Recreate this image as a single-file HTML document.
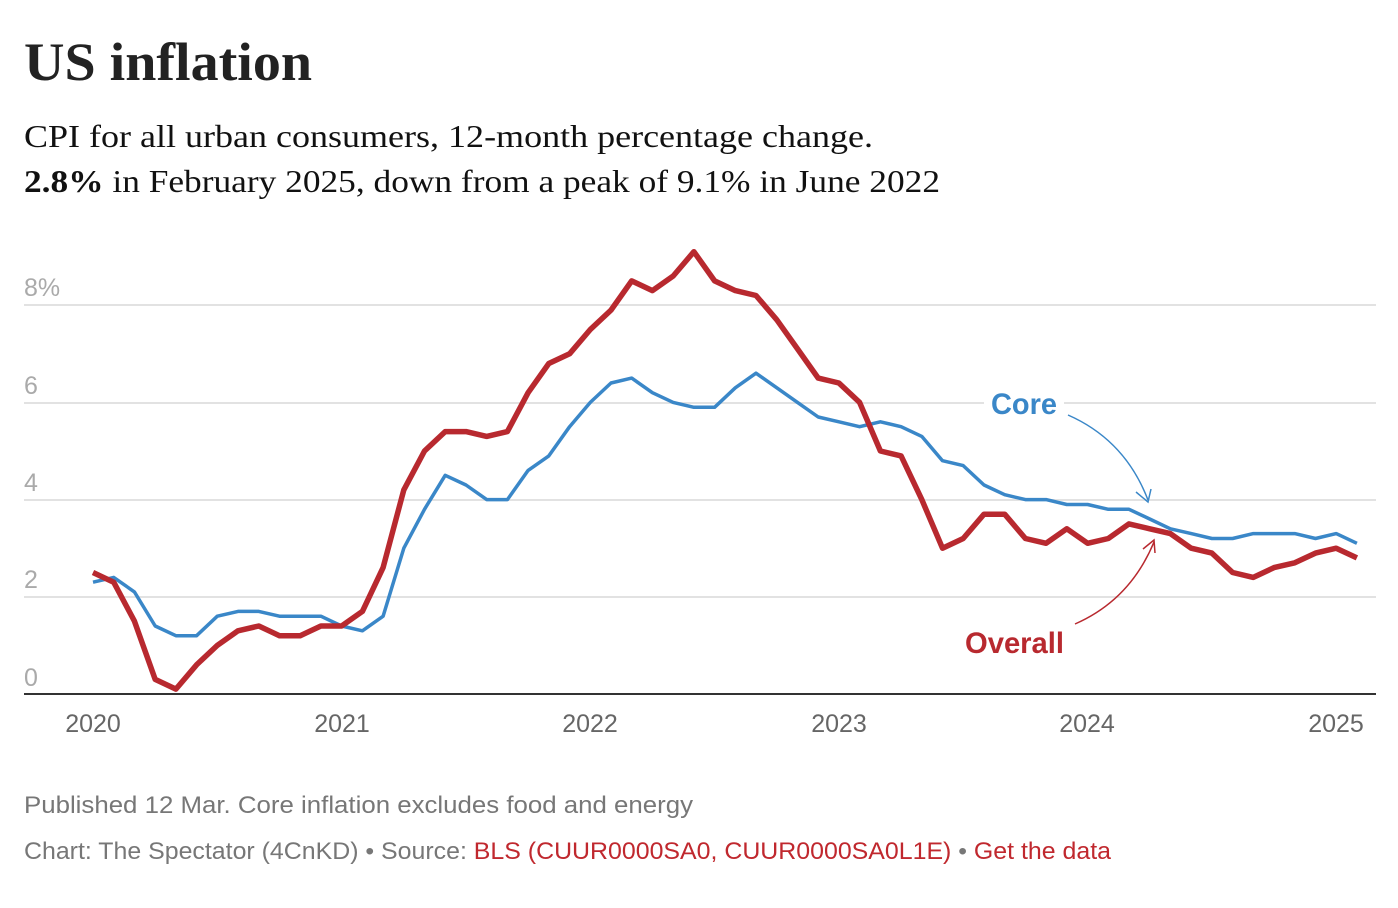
<!DOCTYPE html>
<html><head><meta charset="utf-8"><style>
body{margin:0;background:#fff;width:1398px;height:908px;overflow:hidden}
svg{display:block}
</style></head><body>
<svg id="s" width="1398" height="908" xmlns="http://www.w3.org/2000/svg">
<text x="24" y="80" font-family="Liberation Serif, serif" font-weight="bold" font-size="54" fill="#222" textLength="288" lengthAdjust="spacingAndGlyphs">US inflation</text>
<text x="24" y="147" font-family="Liberation Serif, serif" font-size="32" fill="#111" textLength="849" lengthAdjust="spacingAndGlyphs">CPI for all urban consumers, 12-month percentage change.</text>
<text x="24" y="192" font-family="Liberation Serif, serif" font-size="32" fill="#111" textLength="916" lengthAdjust="spacingAndGlyphs"><tspan font-weight="bold">2.8%</tspan> in February 2025, down from a peak of 9.1% in June 2022</text>
<g stroke="#e2e2e2" stroke-width="2">
<line x1="24" x2="1376" y1="305" y2="305"/><line x1="24" x2="1376" y1="403" y2="403"/>
<line x1="24" x2="1376" y1="500" y2="500"/><line x1="24" x2="1376" y1="597" y2="597"/>
</g>
<g font-family="Liberation Sans, sans-serif" font-size="25" fill="#aaa">
<text x="24" y="296">8%</text><text x="24" y="394">6</text><text x="24" y="491">4</text><text x="24" y="588">2</text><text x="24" y="686">0</text>
</g>
<line x1="24" x2="1376" y1="694" y2="694" stroke="#333" stroke-width="2"/>
<g font-family="Liberation Sans, sans-serif" font-size="25" fill="#666" text-anchor="middle">
<text x="93" y="732">2020</text><text x="342" y="732">2021</text><text x="590" y="732">2022</text><text x="839" y="732">2023</text><text x="1087" y="732">2024</text><text x="1336" y="732">2025</text>
</g>
<polyline id="core" fill="none" stroke="#3a87c8" stroke-width="3.5" stroke-linejoin="round"/>
<polyline id="all" fill="none" stroke="#b8292f" stroke-width="5.5" stroke-linejoin="round"/>
<rect x="984" y="385" width="80" height="36" fill="#fff"/>
<text x="991" y="414" font-family="Liberation Sans, sans-serif" font-weight="bold" font-size="30" fill="#3a87c8" textLength="66" lengthAdjust="spacingAndGlyphs">Core</text>
<path d="M1068,415 Q1125,440 1148,500" fill="none" stroke="#3a87c8" stroke-width="1.5"/>
<path d="M1136,492 L1148,502 L1151,489" fill="none" stroke="#3a87c8" stroke-width="1.5"/>
<text x="965" y="653" font-family="Liberation Sans, sans-serif" font-weight="bold" font-size="30" fill="#b8292f" textLength="99" lengthAdjust="spacingAndGlyphs">Overall</text>
<path d="M1075,624 Q1130,600 1154,542" fill="none" stroke="#b8292f" stroke-width="1.5"/>
<path d="M1143,549 L1154,540 L1155,553" fill="none" stroke="#b8292f" stroke-width="1.5"/>
<text x="24" y="813" font-family="Liberation Sans, sans-serif" font-size="24" fill="#777" textLength="669" lengthAdjust="spacingAndGlyphs">Published 12 Mar. Core inflation excludes food and energy</text>
<text x="24" y="859" font-family="Liberation Sans, sans-serif" font-size="24" fill="#777" textLength="1087" lengthAdjust="spacingAndGlyphs">Chart: The Spectator (4CnKD) • Source: <tspan fill="#c0282e">BLS (CUUR0000SA0, CUUR0000SA0L1E)</tspan> • <tspan fill="#c0282e">Get the data</tspan></text>
</svg>
<script>
var all=[2.5,2.3,1.5,0.3,0.1,0.6,1.0,1.3,1.4,1.2,1.2,1.4,1.4,1.7,2.6,4.2,5.0,5.4,5.4,5.3,5.4,6.2,6.8,7.0,7.5,7.9,8.5,8.3,8.6,9.1,8.5,8.3,8.2,7.7,7.1,6.5,6.4,6.0,5.0,4.9,4.0,3.0,3.2,3.7,3.7,3.2,3.1,3.4,3.1,3.2,3.5,3.4,3.3,3.0,2.9,2.5,2.4,2.6,2.7,2.9,3.0,2.8];
var core=[2.3,2.4,2.1,1.4,1.2,1.2,1.6,1.7,1.7,1.6,1.6,1.6,1.4,1.3,1.6,3.0,3.8,4.5,4.3,4.0,4.0,4.6,4.9,5.5,6.0,6.4,6.5,6.2,6.0,5.9,5.9,6.3,6.6,6.3,6.0,5.7,5.6,5.5,5.6,5.5,5.3,4.8,4.7,4.3,4.1,4.0,4.0,3.9,3.9,3.8,3.8,3.6,3.4,3.3,3.2,3.2,3.3,3.3,3.3,3.2,3.3,3.1];
function pts(a){return a.map(function(v,i){return (93+i*20.72).toFixed(1)+","+(694-48.6*v).toFixed(1)}).join(" ")}
document.getElementById("core").setAttribute("points",pts(core));
document.getElementById("all").setAttribute("points",pts(all));
</script>
</body></html>
